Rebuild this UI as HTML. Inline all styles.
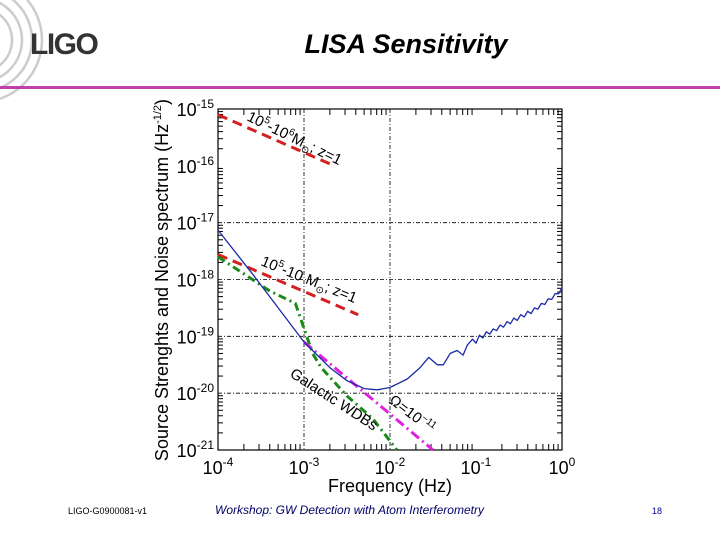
<!DOCTYPE html>
<html><head><meta charset="utf-8"><style>
body{margin:0;width:720px;height:540px;background:#fff;overflow:hidden;font-family:"Liberation Sans",sans-serif}
</style></head><body>
<svg width="720" height="540" xmlns="http://www.w3.org/2000/svg">
<g>
<g fill="none" stroke="#ccc" stroke-width="2.5">
<circle cx="-20" cy="40" r="32"/><circle cx="-20" cy="40" r="42"/><circle cx="-20" cy="40" r="52"/><circle cx="-20" cy="40" r="62"/>
</g>
<text x="30" y="54" font-size="30" font-weight="bold" fill="#333" letter-spacing="-1.5">LIGO</text>
</g>
<text x="406" y="53" text-anchor="middle" font-size="27" font-weight="bold" font-style="italic">LISA Sensitivity</text>
<rect x="0" y="86" width="720" height="3" fill="#c040b0"/>
<g id="chart"></g>
<text x="68" y="514" font-size="9">LIGO-G0900081-v1</text>
<text x="215" y="514" font-size="12" font-style="italic" fill="#000066">Workshop: GW Detection with Atom Interferometry</text>
<text x="652" y="514" font-size="9" fill="#000099">18</text>
</svg>
<script>
const xTickExp=[-4,-3,-2,-1,0];
const yTickExp=[-15,-16,-17,-18,-19,-20,-21];
const noiseF=[-4,-3.6,-3.3,-3,-2.7,-2.5,-2.3,-2.15,-2,-1.8,-1.65,-1.55,-1.45,-1.38,-1.3,-1.22,-1.15,-1.1,-1.04,-1,-0.96,-0.92,-0.88,-0.84,-0.8,-0.76,-0.72,-0.68,-0.64,-0.6,-0.56,-0.52,-0.48,-0.44,-0.4,-0.36,-0.32,-0.28,-0.24,-0.2,-0.16,-0.12,-0.08,-0.04,0];
const noiseH=[-17.13,-17.9,-18.5,-19.1,-19.55,-19.78,-19.92,-19.94,-19.9,-19.75,-19.55,-19.37,-19.5,-19.5,-19.3,-19.25,-19.33,-19.15,-19.05,-19.12,-18.98,-19.03,-18.92,-18.96,-18.87,-18.9,-18.8,-18.84,-18.74,-18.78,-18.68,-18.72,-18.62,-18.66,-18.56,-18.6,-18.5,-18.52,-18.42,-18.44,-18.34,-18.35,-18.25,-18.25,-18.15];
const mbh1F=[-4,-2.66]; const mbh1H=[-15.1,-15.99];
const mbh2F=[-4,-2.37]; const mbh2H=[-17.56,-18.62];
const wdF=[-4,-3.7,-3.4,-3.1,-3.0,-2.9,-2.8,-2.5,-2.2,-1.92]; const wdH=[-17.6,-17.9,-18.2,-18.42,-18.86,-19.3,-19.55,-20.05,-20.45,-21.0];
const bgF=[-3,-1.5]; const bgH=[-19.1,-21.0];
const X0=218,X1=562,Y0=109,Y1=450;
const xs=e=>X0+(e+4)/4*(X1-X0);
const ys=e=>Y0+(-15-e)/6*(Y1-Y0);
const NS="http://www.w3.org/2000/svg";
const g=document.getElementById('chart');
function mk(t,a){const e=document.createElementNS(NS,t);for(const k in a)e.setAttribute(k,a[k]);g.appendChild(e);return e;}
let e=mk('rect',{x:X0,y:Y0,width:X1-X0,height:Y1-Y0,fill:'none',stroke:'#000','stroke-width':1.2});


xTickExp.forEach((v,i)=>{
 if(v===-3||v===-2){const l=mk('line',{x1:xs(v),x2:xs(v),y1:Y0,y2:Y1,stroke:'#000','stroke-dasharray':'4 2 1 2','stroke-width':0.8});
 
 }
 const t=mk('text',{x:xs(v),y:Y1+24,'text-anchor':'middle','font-size':18});
 t.innerHTML='10<tspan dy="-8" font-size="12">'+v+'</tspan>';
 
 
 if(v<0)for(let m=2;m<10;m++){const p=xs(v+Math.log10(m));
  mk('line',{x1:p,x2:p,y1:Y1,y2:Y1-6,stroke:'#000'});mk('line',{x1:p,x2:p,y1:Y0,y2:Y0+6,stroke:'#000'});}
});
yTickExp.forEach((v,i)=>{
 if(v<=-17&&v>=-20){const l=mk('line',{x1:X0,x2:X1,y1:ys(v),y2:ys(v),stroke:'#000','stroke-dasharray':'4 2 1 2','stroke-width':0.8});
 
 }
 const t=mk('text',{x:X0-4,y:ys(v)+7,'text-anchor':'end','font-size':18});
 t.innerHTML='10<tspan dy="-8" font-size="12">'+v+'</tspan>';
 
 
 if(v>-21)for(let m=2;m<10;m++){const p=ys(v-1+Math.log10(m));
  mk('line',{x1:X0,x2:X0+5,y1:p,y2:p,stroke:'#000'});mk('line',{x1:X1,x2:X1-5,y1:p,y2:p,stroke:'#000'});}
});
function series(F,H,style,name){const d=F.map((f,i)=>(i?'L':'M')+xs(f).toFixed(1)+' '+ys(H[i]).toFixed(1)).join(' ');
 const p=mk('path',Object.assign({d:d,fill:'none'},style));
 
 }
series(mbh1F,mbh1H,{stroke:'#d42020','stroke-width':3,'stroke-dasharray':'10 6'},'mbh-high-mass-line');
series(mbh2F,mbh2H,{stroke:'#d42020','stroke-width':3,'stroke-dasharray':'10 6'},'mbh-low-mass-line');
series(wdF,wdH,{stroke:'#1a8a1a','stroke-width':3,'stroke-dasharray':'8 4 2 4'},'galactic-wdb-line');
series(bgF,bgH,{stroke:'#e020e0','stroke-width':3,'stroke-dasharray':'10 4 2 4'},'background-omega-line');
series(noiseF,noiseH,{stroke:'#1a2aaa','stroke-width':1.3,'stroke-linejoin':'round'},'lisa-noise-curve');
function lab(x,y,r,html,name){const t=mk('text',{x:x,y:y,'font-size':15,transform:'rotate('+r+' '+x+' '+y+')'});t.innerHTML=html;
 
 }
lab(246,120,26,'10<tspan dy="-6" font-size="10">5</tspan><tspan dy="6">-10</tspan><tspan dy="-6" font-size="10">6</tspan><tspan dy="6">M</tspan><tspan dy="4" font-size="10">⊙</tspan><tspan dy="-4">; z=1</tspan>','mbh-high-label');
lab(260,265,22,'10<tspan dy="-6" font-size="10">5</tspan><tspan dy="6">-10 M</tspan><tspan dy="4" font-size="10">⊙</tspan><tspan dy="-4">; z=1</tspan>','mbh-low-label');
lab(289,376,33,'Galactic WDBs','wdb-label');
lab(388,402,37,'Ω=10<tspan dy="-6" font-size="10">−11</tspan>','omega-label');
let t=mk('text',{x:390,y:492,'text-anchor':'middle','font-size':18});t.textContent='Frequency (Hz)';


t=mk('text',{x:168,y:280,'text-anchor':'middle','font-size':18,transform:'rotate(-90 168 280)'});
t.innerHTML='Source Strenghts and Noise spectrum (Hz<tspan dy="-7" font-size="11">-1/2</tspan><tspan dy="7">)</tspan>';


</script>
</body></html>
